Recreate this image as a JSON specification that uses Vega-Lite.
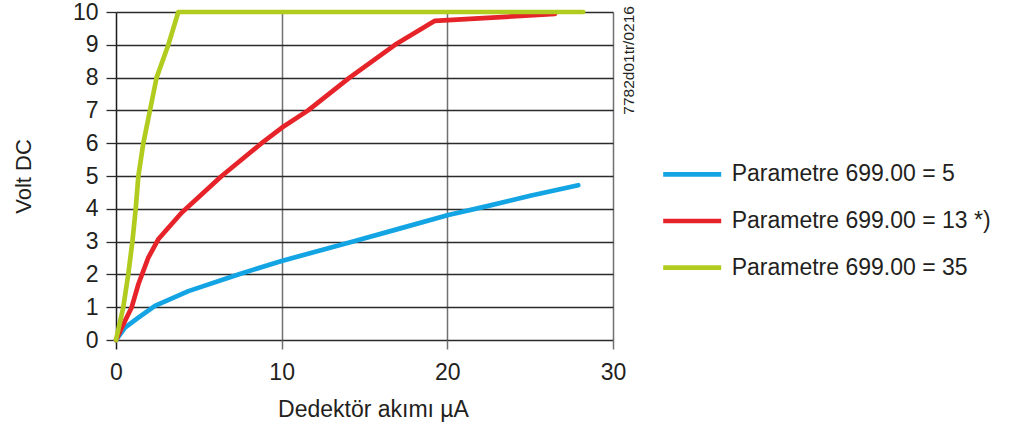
{
  "$schema": "https://vega.github.io/schema/vega-lite/v6.json",
  "width": 497,
  "height": 328,
  "autosize": "none",
  "padding": {"left": 116, "top": 12, "right": 396, "bottom": 95},
  "background": "white",
  "config": {"view": {"stroke": null}, "font": "Liberation Sans"},
  "layer": [
    {
      "data": {
        "values": [
          {"series": "Parametre 699.00 = 5", "x": 0, "y": 0},
          {"series": "Parametre 699.00 = 5", "x": 0.54, "y": 0.375},
          {"series": "Parametre 699.00 = 5", "x": 1.35, "y": 0.68},
          {"series": "Parametre 699.00 = 5", "x": 2.35, "y": 1.04},
          {"series": "Parametre 699.00 = 5", "x": 4.37, "y": 1.49},
          {"series": "Parametre 699.00 = 5", "x": 7.38, "y": 2.0},
          {"series": "Parametre 699.00 = 5", "x": 10.0, "y": 2.41},
          {"series": "Parametre 699.00 = 5", "x": 14.42, "y": 3.02},
          {"series": "Parametre 699.00 = 5", "x": 17.0, "y": 3.38},
          {"series": "Parametre 699.00 = 5", "x": 20.06, "y": 3.81},
          {"series": "Parametre 699.00 = 5", "x": 22.47, "y": 4.09},
          {"series": "Parametre 699.00 = 5", "x": 25.0, "y": 4.4},
          {"series": "Parametre 699.00 = 5", "x": 27.9, "y": 4.72},
          {"series": "Parametre 699.00 = 13 *)", "x": 0, "y": 0},
          {"series": "Parametre 699.00 = 13 *)", "x": 0.54, "y": 0.58},
          {"series": "Parametre 699.00 = 13 *)", "x": 0.95, "y": 1.0},
          {"series": "Parametre 699.00 = 13 *)", "x": 1.35, "y": 1.7},
          {"series": "Parametre 699.00 = 13 *)", "x": 1.95, "y": 2.51},
          {"series": "Parametre 699.00 = 13 *)", "x": 2.55, "y": 3.07},
          {"series": "Parametre 699.00 = 13 *)", "x": 3.96, "y": 3.88},
          {"series": "Parametre 699.00 = 13 *)", "x": 6.38, "y": 5.0},
          {"series": "Parametre 699.00 = 13 *)", "x": 8.79, "y": 6.0},
          {"series": "Parametre 699.00 = 13 *)", "x": 10.0, "y": 6.47},
          {"series": "Parametre 699.00 = 13 *)", "x": 11.6, "y": 7.0},
          {"series": "Parametre 699.00 = 13 *)", "x": 14.1, "y": 8.0},
          {"series": "Parametre 699.00 = 13 *)", "x": 16.84, "y": 9.0},
          {"series": "Parametre 699.00 = 13 *)", "x": 19.25, "y": 9.73},
          {"series": "Parametre 699.00 = 13 *)", "x": 26.5, "y": 9.94},
          {"series": "Parametre 699.00 = 35", "x": 0, "y": 0},
          {"series": "Parametre 699.00 = 35", "x": 0.44, "y": 1},
          {"series": "Parametre 699.00 = 35", "x": 0.74, "y": 2},
          {"series": "Parametre 699.00 = 35", "x": 0.99, "y": 3},
          {"series": "Parametre 699.00 = 35", "x": 1.19, "y": 4},
          {"series": "Parametre 699.00 = 35", "x": 1.35, "y": 5},
          {"series": "Parametre 699.00 = 35", "x": 1.65, "y": 6},
          {"series": "Parametre 699.00 = 35", "x": 2.05, "y": 7},
          {"series": "Parametre 699.00 = 35", "x": 2.45, "y": 8},
          {"series": "Parametre 699.00 = 35", "x": 3.16, "y": 9},
          {"series": "Parametre 699.00 = 35", "x": 3.76, "y": 10},
          {"series": "Parametre 699.00 = 35", "x": 28.2, "y": 10}
        ]
      },
      "mark": {"type": "line", "strokeWidth": 4.7, "strokeCap": "round", "strokeJoin": "round"},
      "encoding": {
        "x": {
          "field": "x", "type": "quantitative",
          "scale": {"domain": [0, 30], "nice": false},
          "axis": {
            "values": [0, 10, 20, 30],
            "grid": true,
            "gridColor": {"condition": {"test": "datum.value === 0", "value": "#1a1a1a"}, "value": "#707070"},
            "gridWidth": 1.5,
            "domain": false,
            "tickSize": 9,
            "tickWidth": 1.5,
            "tickColor": {"condition": {"test": "datum.value === 0", "value": "#1a1a1a"}, "value": "#707070"},
            "labelFontSize": 23,
            "labelColor": "#231f20",
            "labelPadding": 12,
            "labelFlush": false,
            "labelOverlap": false,
            "title": "Dedektör akımı µA",
            "titleFontSize": 23,
            "titleFontWeight": "normal",
            "titleColor": "#231f20",
            "titlePadding": 14,
            "titleX": 257,
            "titleAlign": "center"
          }
        },
        "y": {
          "field": "y", "type": "quantitative",
          "scale": {"domain": [0, 10], "nice": false},
          "axis": {
            "values": [0, 1, 2, 3, 4, 5, 6, 7, 8, 9, 10],
            "grid": true,
            "gridColor": "#2a2a2a",
            "gridWidth": 1.3,
            "domain": false,
            "tickSize": 10,
            "tickWidth": 1.3,
            "tickColor": "#2a2a2a",
            "labelFontSize": 23,
            "labelColor": "#231f20",
            "labelPadding": 8,
            "labelFlush": false,
            "labelOverlap": false,
            "title": "Volt DC",
            "titleFontSize": 22,
            "titleFontWeight": "normal",
            "titleColor": "#231f20",
            "titlePadding": 37
          }
        },
        "color": {
          "field": "series", "type": "nominal",
          "scale": {
            "domain": ["Parametre 699.00 = 5", "Parametre 699.00 = 13 *)", "Parametre 699.00 = 35"],
            "range": ["#13a4e3", "#e52329", "#b2cb1f"]
          },
          "legend": {
            "orient": "none",
            "legendX": 544.7,
            "legendY": 150.3,
            "title": null,
            "padding": 0,
            "symbolType": "stroke",
            "symbolSize": 3364,
            "symbolStrokeWidth": 4.7,
            "clipHeight": 24,
            "rowPadding": 22.7,
            "labelFontSize": 23,
            "labelColor": "#231f20",
            "labelOffset": 8,
            "labelLimit": 400
          }
        }
      }
    },
    {
      "data": {"values": [{"code": "7782d01tr/0216"}]},
      "mark": {"type": "text", "angle": -90, "align": "right", "baseline": "middle", "fontSize": 15.5, "color": "#231f20"},
      "encoding": {
        "x": {
          "datum": 30.96, "type": "quantitative",
          "axis": {
            "values": [0, 10, 20, 30],
            "grid": true,
            "gridColor": {"condition": {"test": "datum.value === 0", "value": "#1a1a1a"}, "value": "#707070"},
            "gridWidth": 1.5,
            "domain": false,
            "tickSize": 9,
            "tickWidth": 1.5,
            "tickColor": {"condition": {"test": "datum.value === 0", "value": "#1a1a1a"}, "value": "#707070"},
            "labelFontSize": 23,
            "labelColor": "#231f20",
            "labelPadding": 12,
            "labelFlush": false,
            "labelOverlap": false,
            "title": "Dedektör akımı µA",
            "titleFontSize": 23,
            "titleFontWeight": "normal",
            "titleColor": "#231f20",
            "titlePadding": 14,
            "titleX": 257,
            "titleAlign": "center"
          }
        },
        "y": {
          "datum": 10.18, "type": "quantitative",
          "axis": {
            "values": [0, 1, 2, 3, 4, 5, 6, 7, 8, 9, 10],
            "grid": true,
            "gridColor": "#2a2a2a",
            "gridWidth": 1.3,
            "domain": false,
            "tickSize": 10,
            "tickWidth": 1.3,
            "tickColor": "#2a2a2a",
            "labelFontSize": 23,
            "labelColor": "#231f20",
            "labelPadding": 8,
            "labelFlush": false,
            "labelOverlap": false,
            "title": "Volt DC",
            "titleFontSize": 22,
            "titleFontWeight": "normal",
            "titleColor": "#231f20",
            "titlePadding": 37
          }
        },
        "text": {"field": "code"}
      }
    }
  ]
}
